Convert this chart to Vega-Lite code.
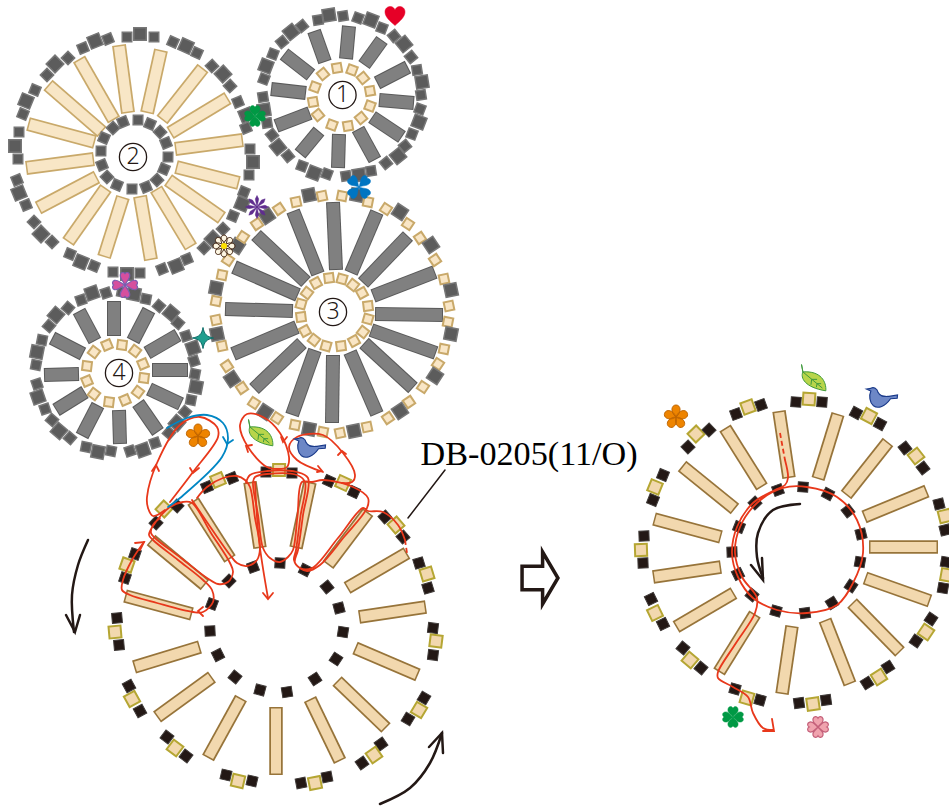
{"$schema":"https://vega.github.io/schema/vega-lite/v6.json","width":949,"height":810,"padding":0,"autosize":{"type":"none"},"background":"white","config":{"view":{"stroke":null}},
"resolve":{"scale":{"stroke":"independent","strokeWidth":"independent","fill":"independent","size":"independent","shape":"independent"}},
"datasets":{
"spokes":[
{"t":"c","x":128,"y":113,"x2":119,"y2":45,"a":127.8,"b":111.5,"a2":119.2,"b2":46.5},
{"t":"c","x":114,"y":120,"x2":79,"y2":59,"a":113.2,"b":118.7,"a2":79.8,"b2":60.3},
{"t":"c","x":102,"y":132,"x2":48,"y2":85,"a":100.9,"b":131,"a2":49.1,"b2":86},
{"t":"c","x":95,"y":142,"x2":28,"y2":124,"a":93.5,"b":141.6,"a2":29.5,"b2":124.4},
{"t":"c","x":94,"y":159,"x2":26,"y2":168,"a":92.5,"b":159.2,"a2":27.5,"b2":167.8},
{"t":"c","x":97,"y":177,"x2":38,"y2":208,"a":95.7,"b":177.7,"a2":39.3,"b2":207.3},
{"t":"c","x":106,"y":188,"x2":68,"y2":242,"a":105.1,"b":189.2,"a2":68.9,"b2":240.8},
{"t":"c","x":123,"y":197,"x2":104,"y2":257,"a":122.5,"b":198.4,"a2":104.5,"b2":255.6},
{"t":"c","x":140,"y":196,"x2":151,"y2":260,"a":140.3,"b":197.5,"a2":150.7,"b2":258.5},
{"t":"c","x":156,"y":189,"x2":191,"y2":247,"a":156.8,"b":190.3,"a2":190.2,"b2":245.7},
{"t":"c","x":168,"y":180,"x2":222,"y2":218,"a":169.2,"b":180.9,"a2":220.8,"b2":217.1},
{"t":"c","x":176,"y":167,"x2":239,"y2":183,"a":177.5,"b":167.4,"a2":237.5,"b2":182.6},
{"t":"c","x":175,"y":149,"x2":243,"y2":140,"a":176.5,"b":148.8,"a2":241.5,"b2":140.2},
{"t":"c","x":170,"y":133,"x2":228,"y2":98,"a":171.3,"b":132.2,"a2":226.7,"b2":98.8},
{"t":"c","x":162,"y":120,"x2":203,"y2":68,"a":162.9,"b":118.8,"a2":202.1,"b2":69.2},
{"t":"c","x":147,"y":113,"x2":161,"y2":50,"a":147.3,"b":111.5,"a2":160.7,"b2":51.5},
{"t":"g","x":346,"y":59,"x2":349,"y2":26,"a":346.1,"b":58,"a2":348.9,"b2":27},
{"t":"g","x":364,"y":65,"x2":382,"y2":40,"a":364.6,"b":64.2,"a2":381.4,"b2":40.8},
{"t":"g","x":377,"y":83,"x2":408,"y2":67,"a":377.9,"b":82.5,"a2":407.1,"b2":67.5},
{"t":"g","x":379,"y":100,"x2":414,"y2":103,"a":380,"b":100.1,"a2":413,"b2":102.9},
{"t":"g","x":372,"y":117,"x2":402,"y2":137,"a":372.8,"b":117.6,"a2":401.2,"b2":136.4},
{"t":"g","x":358,"y":129,"x2":375,"y2":160,"a":358.5,"b":129.9,"a2":374.5,"b2":159.1},
{"t":"g","x":339,"y":134,"x2":338,"y2":168,"a":339,"b":135,"a2":338,"b2":167},
{"t":"g","x":319,"y":131,"x2":300,"y2":154,"a":318.4,"b":131.8,"a2":300.6,"b2":153.2},
{"t":"g","x":310,"y":113,"x2":276,"y2":126,"a":309.1,"b":113.4,"a2":276.9,"b2":125.6},
{"t":"g","x":306,"y":93,"x2":271,"y2":89,"a":305,"b":92.9,"a2":272,"b2":89.1},
{"t":"g","x":311,"y":75,"x2":284,"y2":54,"a":310.2,"b":74.4,"a2":284.8,"b2":54.6},
{"t":"g","x":325,"y":62,"x2":314,"y2":31,"a":324.7,"b":61.1,"a2":314.3,"b2":31.9},
{"t":"g","x":336,"y":270,"x2":333,"y2":202,"a":335.9,"b":269,"a2":333.1,"b2":203},
{"t":"g","x":351,"y":273,"x2":377,"y2":212,"a":351.4,"b":272.1,"a2":376.6,"b2":212.9},
{"t":"g","x":363,"y":283,"x2":408,"y2":236,"a":363.7,"b":282.3,"a2":407.3,"b2":236.7},
{"t":"g","x":373,"y":296,"x2":435,"y2":272,"a":373.9,"b":295.6,"a2":434.1,"b2":272.4},
{"t":"g","x":375,"y":314,"x2":443,"y2":315,"a":376,"b":314,"a2":442,"b2":315},
{"t":"g","x":371,"y":330,"x2":436,"y2":353,"a":371.9,"b":330.3,"a2":435.1,"b2":352.7},
{"t":"g","x":364,"y":343,"x2":413,"y2":388,"a":364.7,"b":343.7,"a2":412.3,"b2":387.3},
{"t":"g","x":350,"y":352,"x2":377,"y2":414,"a":350.4,"b":352.9,"a2":376.6,"b2":413.1},
{"t":"g","x":333,"y":355,"x2":332,"y2":423,"a":333,"b":356,"a2":332,"b2":422},
{"t":"g","x":315,"y":350,"x2":292,"y2":415,"a":314.7,"b":350.9,"a2":292.3,"b2":414.1},
{"t":"g","x":302,"y":343,"x2":254,"y2":389,"a":301.3,"b":343.7,"a2":254.7,"b2":388.3},
{"t":"g","x":297,"y":327,"x2":233,"y2":354,"a":296.1,"b":327.4,"a2":233.9,"b2":353.6},
{"t":"g","x":293,"y":311,"x2":225,"y2":309,"a":292,"b":311,"a2":226,"b2":309},
{"t":"g","x":298,"y":295,"x2":234,"y2":267,"a":297.1,"b":294.6,"a2":234.9,"b2":267.4},
{"t":"g","x":306,"y":282,"x2":256,"y2":235,"a":305.3,"b":281.3,"a2":256.7,"b2":235.7},
{"t":"g","x":318,"y":274,"x2":293,"y2":211,"a":317.6,"b":273.1,"a2":293.4,"b2":211.9},
{"t":"g","x":114,"y":336,"x2":114,"y2":301,"a":114,"b":335,"a2":114,"b2":302},
{"t":"g","x":133,"y":341,"x2":149,"y2":310,"a":133.5,"b":340.1,"a2":148.5,"b2":310.9},
{"t":"g","x":147,"y":353,"x2":178,"y2":335,"a":147.9,"b":352.5,"a2":177.1,"b2":335.5},
{"t":"g","x":152,"y":370,"x2":188,"y2":370,"a":153,"b":370,"a2":187,"b2":370},
{"t":"g","x":149,"y":389,"x2":181,"y2":404,"a":149.9,"b":389.4,"a2":180.1,"b2":403.6},
{"t":"g","x":138,"y":403,"x2":158,"y2":432,"a":138.6,"b":403.8,"a2":157.4,"b2":431.2},
{"t":"g","x":119,"y":410,"x2":120,"y2":444,"a":119,"b":411,"a2":120,"b2":443},
{"t":"g","x":98,"y":405,"x2":82,"y2":436,"a":97.5,"b":405.9,"a2":82.5,"b2":435.1},
{"t":"g","x":85,"y":392,"x2":56,"y2":410,"a":84.2,"b":392.5,"a2":56.8,"b2":409.5},
{"t":"g","x":79,"y":374,"x2":44,"y2":375,"a":78,"b":374,"a2":45,"b2":375},
{"t":"g","x":83,"y":354,"x2":52,"y2":338,"a":82.1,"b":353.5,"a2":52.9,"b2":338.5},
{"t":"g","x":95,"y":341,"x2":79,"y2":311,"a":94.5,"b":340.1,"a2":79.5,"b2":311.9},
{"t":"t","x":260,"y":548,"x2":250,"y2":482,"a":259.8,"b":546.5,"a2":250.2,"b2":483.5},
{"t":"t","x":296,"y":548,"x2":310,"y2":482,"a":296.3,"b":546.5,"a2":309.7,"b2":483.5},
{"t":"t","x":328,"y":565,"x2":368,"y2":512,"a":328.9,"b":563.8,"a2":367.1,"b2":513.2},
{"t":"t","x":347,"y":588,"x2":407,"y2":553,"a":348.3,"b":587.2,"a2":405.7,"b2":553.8},
{"t":"t","x":359,"y":617,"x2":426,"y2":607,"a":360.5,"b":616.8,"a2":424.5,"b2":607.2},
{"t":"t","x":355,"y":648,"x2":418,"y2":675,"a":356.4,"b":648.6,"a2":416.6,"b2":674.4},
{"t":"t","x":337,"y":681,"x2":386,"y2":728,"a":338.1,"b":682,"a2":384.9,"b2":727},
{"t":"t","x":310,"y":699,"x2":340,"y2":761,"a":310.7,"b":700.4,"a2":339.3,"b2":759.6},
{"t":"t","x":276,"y":707,"x2":276,"y2":775,"a":276,"b":708.5,"a2":276,"b2":773.5},
{"t":"t","x":241,"y":698,"x2":208,"y2":758,"a":240.3,"b":699.3,"a2":208.7,"b2":756.7},
{"t":"t","x":212,"y":677,"x2":157,"y2":717,"a":210.8,"b":677.9,"a2":158.2,"b2":716.1},
{"t":"t","x":200,"y":647,"x2":134,"y2":667,"a":198.5,"b":647.4,"a2":135.5,"b2":666.6},
{"t":"t","x":192,"y":614,"x2":125,"y2":596,"a":190.5,"b":613.6,"a2":126.5,"b2":596.4},
{"t":"t","x":205,"y":585,"x2":151,"y2":540,"a":203.9,"b":584,"a2":152.1,"b2":541},
{"t":"t","x":230,"y":559,"x2":193,"y2":501,"a":229.2,"b":557.7,"a2":193.8,"b2":502.3},
{"t":"t","x":789,"y":478,"x2":779,"y2":411,"a":788.8,"b":476.5,"a2":779.2,"b2":412.5},
{"t":"t","x":818,"y":479,"x2":838,"y2":414,"a":818.4,"b":477.6,"a2":837.6,"b2":415.4},
{"t":"t","x":846,"y":495,"x2":888,"y2":442,"a":846.9,"b":493.8,"a2":887.1,"b2":443.2},
{"t":"t","x":864,"y":517,"x2":927,"y2":491,"a":865.4,"b":516.4,"a2":925.6,"b2":491.6},
{"t":"t","x":869,"y":547,"x2":938,"y2":547,"a":870.5,"b":547,"a2":936.5,"b2":547},
{"t":"t","x":865,"y":578,"x2":930,"y2":601,"a":866.4,"b":578.5,"a2":928.6,"b2":600.5},
{"t":"t","x":852,"y":603,"x2":900,"y2":652,"a":853,"b":604,"a2":899,"b2":651},
{"t":"t","x":825,"y":620,"x2":850,"y2":684,"a":825.5,"b":621.4,"a2":849.5,"b2":682.6},
{"t":"t","x":792,"y":626,"x2":782,"y2":694,"a":791.8,"b":627.5,"a2":782.2,"b2":692.5},
{"t":"t","x":755,"y":614,"x2":719,"y2":672,"a":754.2,"b":615.3,"a2":719.8,"b2":670.7},
{"t":"t","x":734,"y":593,"x2":676,"y2":627,"a":732.7,"b":593.8,"a2":677.3,"b2":626.2},
{"t":"t","x":721,"y":567,"x2":653,"y2":577,"a":719.5,"b":567.2,"a2":654.5,"b2":576.8},
{"t":"t","x":721,"y":537,"x2":654,"y2":519,"a":719.6,"b":536.6,"a2":655.4,"b2":519.4},
{"t":"t","x":735,"y":509,"x2":682,"y2":466,"a":733.8,"b":508,"a2":683.2,"b2":467},
{"t":"t","x":762,"y":487,"x2":725,"y2":428,"a":761.2,"b":485.7,"a2":725.8,"b2":429.3}
],
"beads":[
{"x":127,"y":37,"a":0,"k":"gs"},{"x":140,"y":34,"a":0,"k":"gb"},{"x":154,"y":37,"a":0,"k":"gs"},
{"x":173,"y":42,"a":24,"k":"gs"},{"x":186,"y":46,"a":24,"k":"gb"},{"x":197,"y":53,"a":24,"k":"gs"},
{"x":212,"y":66,"a":47,"k":"gs"},{"x":223,"y":74,"a":47,"k":"gb"},{"x":230,"y":86,"a":47,"k":"gs"},
{"x":238,"y":102,"a":68,"k":"gs"},{"x":246,"y":115,"a":68,"k":"gb"},{"x":246,"y":128,"a":68,"k":"gs"},
{"x":250,"y":149,"a":90,"k":"gs"},{"x":253,"y":162,"a":90,"k":"gb"},{"x":249,"y":175,"a":90,"k":"gs"},
{"x":244,"y":192,"a":112,"k":"gs"},{"x":242,"y":204,"a":112,"k":"gb"},{"x":233,"y":216,"a":112,"k":"gs"},
{"x":223,"y":229,"a":135,"k":"gs"},{"x":213,"y":239,"a":135,"k":"gb"},{"x":204,"y":248,"a":135,"k":"gs"},
{"x":187,"y":259,"a":158,"k":"gs"},{"x":176,"y":266,"a":158,"k":"gb"},{"x":162,"y":269,"a":158,"k":"gs"},
{"x":140,"y":273,"a":180,"k":"gs"},{"x":127,"y":274,"a":180,"k":"gb"},{"x":113,"y":272,"a":180,"k":"gs"},
{"x":94,"y":266,"a":202,"k":"gs"},{"x":81,"y":262,"a":202,"k":"gb"},{"x":70,"y":254,"a":202,"k":"gs"},
{"x":52,"y":242,"a":225,"k":"gs"},{"x":41,"y":234,"a":225,"k":"gb"},{"x":34,"y":222,"a":225,"k":"gs"},
{"x":26,"y":205,"a":248,"k":"gs"},{"x":19,"y":193,"a":248,"k":"gb"},{"x":17,"y":180,"a":248,"k":"gs"},
{"x":18,"y":159,"a":270,"k":"gs"},{"x":15,"y":146,"a":270,"k":"gb"},{"x":19,"y":132,"a":270,"k":"gs"},
{"x":23,"y":114,"a":292,"k":"gs"},{"x":26,"y":101,"a":292,"k":"gb"},{"x":35,"y":90,"a":292,"k":"gs"},
{"x":47,"y":75,"a":315,"k":"gs"},{"x":55,"y":64,"a":315,"k":"gb"},{"x":68,"y":58,"a":315,"k":"gs"},
{"x":83,"y":48,"a":338,"k":"gs"},{"x":95,"y":41,"a":338,"k":"gb"},{"x":108,"y":39,"a":338,"k":"gs"},
{"x":138,"y":120,"a":1,"k":"gs"},{"x":150,"y":124,"a":23,"k":"gs"},{"x":160,"y":132,"a":46,"k":"gs"},{"x":166,"y":143,"a":68,"k":"gs"},{"x":168,"y":157,"a":91,"k":"gs"},{"x":164,"y":169,"a":113,"k":"gs"},{"x":157,"y":180,"a":136,"k":"gs"},{"x":146,"y":187,"a":158,"k":"gs"},{"x":132,"y":189,"a":181,"k":"gs"},{"x":117,"y":185,"a":203,"k":"gs"},{"x":107,"y":177,"a":226,"k":"gs"},{"x":102,"y":165,"a":248,"k":"gs"},{"x":101,"y":151,"a":271,"k":"gs"},{"x":104,"y":138,"a":293,"k":"gs"},{"x":113,"y":128,"a":316,"k":"gs"},{"x":123,"y":122,"a":338,"k":"gs"},
{"x":318,"y":20,"a":-9,"k":"gs"},{"x":329,"y":15,"a":-9,"k":"gb"},{"x":343,"y":16,"a":-9,"k":"gs"},
{"x":358,"y":18,"a":21,"k":"gs"},{"x":371,"y":20,"a":21,"k":"gb"},{"x":382,"y":28,"a":21,"k":"gs"},
{"x":394,"y":36,"a":51,"k":"gs"},{"x":404,"y":44,"a":51,"k":"gb"},{"x":411,"y":57,"a":51,"k":"gs"},
{"x":417,"y":70,"a":81,"k":"gs"},{"x":422,"y":82,"a":81,"k":"gb"},{"x":421,"y":95,"a":81,"k":"gs"},
{"x":420,"y":109,"a":111,"k":"gs"},{"x":419,"y":122,"a":111,"k":"gb"},{"x":412,"y":134,"a":111,"k":"gs"},
{"x":405,"y":146,"a":141,"k":"gs"},{"x":398,"y":156,"a":141,"k":"gb"},{"x":386,"y":163,"a":141,"k":"gs"},
{"x":371,"y":171,"a":171,"k":"gs"},{"x":359,"y":175,"a":171,"k":"gb"},{"x":346,"y":176,"a":171,"k":"gs"},
{"x":327,"y":174,"a":201,"k":"gs"},{"x":314,"y":173,"a":201,"k":"gb"},{"x":302,"y":166,"a":201,"k":"gs"},
{"x":288,"y":156,"a":231,"k":"gs"},{"x":278,"y":147,"a":231,"k":"gb"},{"x":272,"y":135,"a":231,"k":"gs"},
{"x":267,"y":123,"a":261,"k":"gs"},{"x":264,"y":110,"a":261,"k":"gb"},{"x":263,"y":97,"a":261,"k":"gs"},
{"x":264,"y":79,"a":291,"k":"gs"},{"x":266,"y":66,"a":291,"k":"gb"},{"x":273,"y":54,"a":291,"k":"gs"},
{"x":282,"y":42,"a":321,"k":"gs"},{"x":291,"y":32,"a":321,"k":"gb"},{"x":302,"y":26,"a":321,"k":"gs"},
{"x":337,"y":68,"a":-10,"k":"c"},{"x":352,"y":70,"a":20,"k":"c"},{"x":363,"y":78,"a":50,"k":"c"},{"x":370,"y":91,"a":80,"k":"c"},{"x":370,"y":106,"a":110,"k":"c"},{"x":361,"y":118,"a":140,"k":"c"},{"x":348,"y":126,"a":170,"k":"c"},{"x":332,"y":125,"a":200,"k":"c"},{"x":318,"y":115,"a":230,"k":"c"},{"x":313,"y":102,"a":260,"k":"c"},{"x":315,"y":87,"a":290,"k":"c"},{"x":323,"y":74,"a":320,"k":"c"},
{"x":296,"y":202,"a":-12,"k":"c"},{"x":309,"y":195,"a":-12,"k":"gb"},{"x":322,"y":196,"a":-12,"k":"c"},
{"x":342,"y":196,"a":11,"k":"c"},{"x":357,"y":195,"a":11,"k":"gb"},{"x":368,"y":202,"a":11,"k":"c"},
{"x":386,"y":209,"a":33,"k":"c"},{"x":400,"y":212,"a":33,"k":"gb"},{"x":408,"y":224,"a":33,"k":"c"},
{"x":420,"y":238,"a":56,"k":"c"},{"x":431,"y":245,"a":56,"k":"gb"},{"x":435,"y":260,"a":56,"k":"c"},
{"x":444,"y":279,"a":78,"k":"c"},{"x":451,"y":290,"a":78,"k":"gb"},{"x":449,"y":306,"a":78,"k":"c"},
{"x":448,"y":322,"a":101,"k":"c"},{"x":451,"y":334,"a":101,"k":"gb"},{"x":444,"y":349,"a":101,"k":"c"},
{"x":438,"y":364,"a":123,"k":"c"},{"x":435,"y":376,"a":123,"k":"gb"},{"x":423,"y":387,"a":123,"k":"c"},
{"x":409,"y":402,"a":146,"k":"c"},{"x":400,"y":411,"a":146,"k":"gb"},{"x":388,"y":418,"a":146,"k":"c"},
{"x":367,"y":427,"a":168,"k":"c"},{"x":354,"y":431,"a":168,"k":"gb"},{"x":340,"y":433,"a":168,"k":"c"},
{"x":323,"y":432,"a":191,"k":"c"},{"x":309,"y":429,"a":191,"k":"gb"},{"x":295,"y":425,"a":191,"k":"c"},
{"x":277,"y":418,"a":213,"k":"c"},{"x":265,"y":412,"a":213,"k":"gb"},{"x":254,"y":403,"a":213,"k":"c"},
{"x":242,"y":388,"a":236,"k":"c"},{"x":232,"y":379,"a":236,"k":"gb"},{"x":227,"y":366,"a":236,"k":"c"},
{"x":222,"y":346,"a":258,"k":"c"},{"x":217,"y":334,"a":258,"k":"gb"},{"x":216,"y":320,"a":258,"k":"c"},
{"x":216,"y":301,"a":281,"k":"c"},{"x":216,"y":288,"a":281,"k":"gb"},{"x":222,"y":275,"a":281,"k":"c"},
{"x":228,"y":260,"a":303,"k":"c"},{"x":237,"y":246,"a":303,"k":"gb"},{"x":243,"y":237,"a":303,"k":"c"},
{"x":257,"y":224,"a":326,"k":"c"},{"x":267,"y":216,"a":326,"k":"gb"},{"x":279,"y":209,"a":326,"k":"c"},
{"x":329,"y":278,"a":-7,"k":"c"},{"x":342,"y":279,"a":16,"k":"c"},{"x":353,"y":285,"a":38,"k":"c"},{"x":362,"y":293,"a":61,"k":"c"},{"x":368,"y":306,"a":83,"k":"c"},{"x":368,"y":319,"a":106,"k":"c"},{"x":363,"y":332,"a":128,"k":"c"},{"x":354,"y":341,"a":151,"k":"c"},{"x":341,"y":346,"a":173,"k":"c"},{"x":326,"y":346,"a":196,"k":"c"},{"x":314,"y":340,"a":218,"k":"c"},{"x":305,"y":331,"a":241,"k":"c"},{"x":301,"y":317,"a":263,"k":"c"},{"x":301,"y":304,"a":286,"k":"c"},{"x":307,"y":293,"a":308,"k":"c"},{"x":316,"y":283,"a":331,"k":"c"},
{"x":106,"y":293,"a":-19,"k":"gs"},{"x":92,"y":293,"a":-19,"k":"gb"},{"x":81,"y":300,"a":-19,"k":"gs"},
{"x":68,"y":308,"a":-49,"k":"gs"},{"x":56,"y":315,"a":-49,"k":"gb"},{"x":49,"y":326,"a":-49,"k":"gs"},
{"x":42,"y":340,"a":-79,"k":"gs"},{"x":37,"y":352,"a":-79,"k":"gb"},{"x":36,"y":365,"a":-79,"k":"gs"},
{"x":37,"y":384,"a":-109,"k":"gs"},{"x":38,"y":397,"a":-109,"k":"gb"},{"x":45,"y":409,"a":-109,"k":"gs"},
{"x":52,"y":420,"a":-139,"k":"gs"},{"x":59,"y":431,"a":-139,"k":"gb"},{"x":70,"y":438,"a":-139,"k":"gs"},
{"x":86,"y":447,"a":-169,"k":"gs"},{"x":98,"y":452,"a":-169,"k":"gb"},{"x":111,"y":451,"a":-169,"k":"gs"},
{"x":130,"y":451,"a":161,"k":"gs"},{"x":143,"y":450,"a":161,"k":"gb"},{"x":155,"y":443,"a":161,"k":"gs"},
{"x":169,"y":433,"a":131,"k":"gs"},{"x":177,"y":423,"a":131,"k":"gb"},{"x":185,"y":412,"a":131,"k":"gs"},
{"x":191,"y":400,"a":101,"k":"gs"},{"x":196,"y":387,"a":101,"k":"gb"},{"x":195,"y":374,"a":101,"k":"gs"},
{"x":194,"y":361,"a":71,"k":"gs"},{"x":193,"y":348,"a":71,"k":"gb"},{"x":186,"y":336,"a":71,"k":"gs"},
{"x":178,"y":323,"a":41,"k":"gs"},{"x":171,"y":313,"a":41,"k":"gb"},{"x":159,"y":306,"a":41,"k":"gs"},
{"x":146,"y":299,"a":11,"k":"gs"},{"x":134,"y":294,"a":11,"k":"gb"},{"x":122,"y":292,"a":11,"k":"gs"},
{"x":107,"y":345,"a":-23,"k":"c"},{"x":122,"y":345,"a":7,"k":"c"},{"x":135,"y":351,"a":37,"k":"c"},{"x":143,"y":364,"a":67,"k":"c"},{"x":144,"y":378,"a":97,"k":"c"},{"x":138,"y":392,"a":127,"k":"c"},{"x":125,"y":400,"a":157,"k":"c"},{"x":109,"y":402,"a":187,"k":"c"},{"x":94,"y":394,"a":217,"k":"c"},{"x":87,"y":381,"a":247,"k":"c"},{"x":87,"y":366,"a":277,"k":"c"},{"x":94,"y":352,"a":307,"k":"c"},
{"x":266,"y":472,"a":1,"k":"d"},{"x":279,"y":470,"a":1,"k":"o"},{"x":292,"y":473,"a":1,"k":"d"},
{"x":329,"y":481,"a":25,"k":"d"},{"x":343,"y":483,"a":25,"k":"o"},{"x":354,"y":492,"a":25,"k":"d"},
{"x":385,"y":517,"a":49,"k":"d"},{"x":396,"y":525,"a":49,"k":"o"},{"x":403,"y":537,"a":49,"k":"d"},
{"x":419,"y":563,"a":73,"k":"d"},{"x":427,"y":574,"a":73,"k":"o"},{"x":428,"y":588,"a":73,"k":"d"},
{"x":433,"y":628,"a":97,"k":"d"},{"x":436,"y":641,"a":97,"k":"o"},{"x":433,"y":655,"a":97,"k":"d"},
{"x":424,"y":698,"a":121,"k":"d"},{"x":419,"y":710,"a":121,"k":"o"},{"x":408,"y":719,"a":121,"k":"d"},
{"x":381,"y":744,"a":145,"k":"d"},{"x":374,"y":755,"a":145,"k":"o"},{"x":362,"y":763,"a":145,"k":"d"},
{"x":327,"y":777,"a":169,"k":"d"},{"x":315,"y":783,"a":169,"k":"o"},{"x":301,"y":783,"a":169,"k":"d"},
{"x":252,"y":781,"a":193,"k":"d"},{"x":238,"y":781,"a":193,"k":"o"},{"x":226,"y":775,"a":193,"k":"d"},
{"x":186,"y":756,"a":217,"k":"d"},{"x":175,"y":748,"a":217,"k":"o"},{"x":167,"y":737,"a":217,"k":"d"},
{"x":140,"y":711,"a":241,"k":"d"},{"x":132,"y":699,"a":241,"k":"o"},{"x":129,"y":686,"a":241,"k":"d"},
{"x":119,"y":645,"a":265,"k":"d"},{"x":115,"y":632,"a":265,"k":"o"},{"x":117,"y":618,"a":265,"k":"d"},
{"x":125,"y":578,"a":289,"k":"d"},{"x":127,"y":565,"a":289,"k":"o"},{"x":135,"y":554,"a":289,"k":"d"},
{"x":156,"y":523,"a":313,"k":"d"},{"x":164,"y":509,"a":313,"k":"o"},{"x":177,"y":506,"a":313,"k":"d"},
{"x":207,"y":487,"a":337,"k":"d"},{"x":218,"y":480,"a":337,"k":"o"},{"x":232,"y":478,"a":337,"k":"d"},
{"x":280,"y":563,"a":3,"k":"d"},{"x":305,"y":570,"a":27,"k":"d"},{"x":327,"y":587,"a":51,"k":"d"},{"x":339,"y":608,"a":75,"k":"d"},{"x":343,"y":632,"a":99,"k":"d"},{"x":336,"y":659,"a":123,"k":"d"},{"x":315,"y":679,"a":147,"k":"d"},{"x":287,"y":692,"a":171,"k":"d"},{"x":260,"y":690,"a":195,"k":"d"},{"x":235,"y":677,"a":219,"k":"d"},{"x":218,"y":655,"a":243,"k":"d"},{"x":210,"y":631,"a":267,"k":"d"},{"x":212,"y":604,"a":291,"k":"d"},{"x":229,"y":581,"a":315,"k":"d"},{"x":253,"y":567,"a":339,"k":"d"},
{"x":796,"y":402,"a":4,"k":"d"},{"x":809,"y":399,"a":4,"k":"o"},{"x":822,"y":402,"a":4,"k":"d"},
{"x":856,"y":413,"a":28,"k":"d"},{"x":869,"y":416,"a":28,"k":"o"},{"x":880,"y":424,"a":28,"k":"d"},
{"x":905,"y":448,"a":52,"k":"d"},{"x":916,"y":456,"a":52,"k":"o"},{"x":923,"y":468,"a":52,"k":"d"},
{"x":939,"y":504,"a":76,"k":"d"},{"x":945,"y":516,"a":76,"k":"o"},{"x":945,"y":530,"a":76,"k":"d"},
{"x":946,"y":562,"a":100,"k":"d"},{"x":947,"y":575,"a":100,"k":"o"},{"x":943,"y":588,"a":100,"k":"d"},
{"x":931,"y":619,"a":124,"k":"d"},{"x":926,"y":632,"a":124,"k":"o"},{"x":916,"y":641,"a":124,"k":"d"},
{"x":888,"y":667,"a":148,"k":"d"},{"x":879,"y":677,"a":148,"k":"o"},{"x":867,"y":683,"a":148,"k":"d"},
{"x":826,"y":700,"a":172,"k":"d"},{"x":813,"y":704,"a":172,"k":"o"},{"x":799,"y":703,"a":172,"k":"d"},
{"x":760,"y":700,"a":196,"k":"d"},{"x":747,"y":698,"a":196,"k":"o"},{"x":735,"y":689,"a":196,"k":"d"},
{"x":701,"y":668,"a":220,"k":"d"},{"x":690,"y":660,"a":220,"k":"o"},{"x":683,"y":648,"a":220,"k":"d"},
{"x":663,"y":624,"a":244,"k":"d"},{"x":655,"y":613,"a":244,"k":"o"},{"x":651,"y":599,"a":244,"k":"d"},
{"x":643,"y":563,"a":268,"k":"d"},{"x":641,"y":550,"a":268,"k":"o"},{"x":644,"y":536,"a":268,"k":"d"},
{"x":653,"y":500,"a":292,"k":"d"},{"x":655,"y":487,"a":292,"k":"o"},{"x":663,"y":475,"a":292,"k":"d"},
{"x":688,"y":447,"a":316,"k":"d"},{"x":696,"y":434,"a":316,"k":"o"},{"x":709,"y":430,"a":316,"k":"d"},
{"x":736,"y":414,"a":340,"k":"d"},{"x":748,"y":407,"a":340,"k":"o"},{"x":761,"y":405,"a":340,"k":"d"},
{"x":803,"y":487,"a":4,"k":"d"},{"x":828,"y":494,"a":28,"k":"d"},{"x":848,"y":511,"a":52,"k":"d"},{"x":861,"y":534,"a":76,"k":"d"},{"x":860,"y":562,"a":100,"k":"d"},{"x":851,"y":586,"a":124,"k":"d"},{"x":832,"y":603,"a":148,"k":"d"},{"x":805,"y":613,"a":172,"k":"d"},{"x":776,"y":611,"a":196,"k":"d"},{"x":752,"y":595,"a":220,"k":"d"},{"x":738,"y":574,"a":244,"k":"d"},{"x":732,"y":552,"a":268,"k":"d"},{"x":739,"y":527,"a":292,"k":"d"},{"x":755,"y":503,"a":316,"k":"d"},{"x":778,"y":490,"a":340,"k":"d"}
],
"curves":[
{"s":"r1","g":"r","o":1,"x":144,"y":542},{"s":"r1","g":"r","o":2,"x":132,"y":560},{"s":"r1","g":"r","o":3,"x":123,"y":580},{"s":"r1","g":"r","o":4,"x":122,"y":590},{"s":"r1","g":"r","o":5,"x":130,"y":595},{"s":"r1","g":"r","o":6,"x":157,"y":603},{"s":"r1","g":"r","o":7,"x":193,"y":612},{"s":"r1","g":"r","o":8,"x":203,"y":612},{"s":"r1","g":"r","o":9,"x":213,"y":602},{"s":"r1","g":"r","o":10,"x":212,"y":590},{"s":"r1","g":"r","o":11,"x":203,"y":580},{"s":"r1","g":"r","o":11.5,"x":178,"y":560},{"s":"r1","g":"r","o":12,"x":153,"y":540},{"s":"r1","g":"r","o":13,"x":149,"y":535},{"s":"r1","g":"r","o":14,"x":153,"y":526},{"s":"r1","g":"r","o":15,"x":170,"y":507},{"s":"r1","g":"r","o":16,"x":183,"y":502},{"s":"r1","g":"r","o":17,"x":192,"y":503},{"s":"r1","g":"r","o":17.5,"x":211,"y":533},{"s":"r1","g":"r","o":18,"x":230,"y":563},{"s":"r1","g":"r","o":19,"x":233,"y":572},{"s":"r1","g":"r","o":20,"x":228,"y":582},{"s":"r1","g":"r","o":21,"x":218,"y":584},{"s":"r1","g":"r","o":22,"x":207,"y":578},{"s":"r1","g":"r","o":22.5,"x":181,"y":558},{"s":"r1","g":"r","o":23,"x":155,"y":538},{"s":"r1","g":"r","o":24,"x":151,"y":533},{"s":"r1","g":"r","o":25,"x":153,"y":525},{"s":"r1","g":"r","o":26,"x":160,"y":518},
{"s":"r1c","g":"r","o":1,"x":165,"y":510},{"s":"r1c","g":"r","o":2,"x":153,"y":516},{"s":"r1c","g":"r","o":3,"x":148,"y":508},{"s":"r1c","g":"r","o":4,"x":147,"y":497},{"s":"r1c","g":"r","o":5,"x":157,"y":463},{"s":"r1c","g":"r","o":6,"x":180,"y":425},{"s":"r1c","g":"r","o":7,"x":200,"y":417},{"s":"r1c","g":"r","o":8,"x":217,"y":427},{"s":"r1c","g":"r","o":9,"x":218,"y":437},{"s":"r1c","g":"r","o":10,"x":193,"y":472},{"s":"r1c","g":"r","o":11,"x":170,"y":502},
{"s":"r2","g":"r","o":1,"x":197,"y":498},{"s":"r2","g":"r","o":2,"x":207,"y":487},{"s":"r2","g":"r","o":3,"x":223,"y":478},{"s":"r2","g":"r","o":4,"x":237,"y":476},{"s":"r2","g":"r","o":5,"x":245,"y":480},{"s":"r2","g":"r","o":6,"x":250,"y":487},{"s":"r2","g":"r","o":6.5,"x":255,"y":518},{"s":"r2","g":"r","o":7,"x":260,"y":548},{"s":"r2","g":"r","o":8,"x":257,"y":560},{"s":"r2","g":"r","o":9,"x":247,"y":566},{"s":"r2","g":"r","o":10,"x":237,"y":563},{"s":"r2","g":"r","o":11,"x":230,"y":555},{"s":"r2","g":"r","o":11.5,"x":211,"y":528},{"s":"r2","g":"r","o":12,"x":192,"y":500},
{"s":"r3","g":"r","o":1,"x":246,"y":483},{"s":"r3","g":"r","o":2,"x":250,"y":475},{"s":"r3","g":"r","o":3,"x":267,"y":471},{"s":"r3","g":"r","o":4,"x":297,"y":472},{"s":"r3","g":"r","o":5,"x":308,"y":478},{"s":"r3","g":"r","o":5.5,"x":303,"y":515},{"s":"r3","g":"r","o":6,"x":298,"y":550},{"s":"r3","g":"r","o":7,"x":295,"y":563},{"s":"r3","g":"r","o":8,"x":307,"y":571},{"s":"r3","g":"r","o":9,"x":320,"y":565},{"s":"r3","g":"r","o":9.5,"x":344,"y":537},{"s":"r3","g":"r","o":10,"x":367,"y":508},{"s":"r3","g":"r","o":11,"x":368,"y":498},{"s":"r3","g":"r","o":12,"x":353,"y":487},{"s":"r3","g":"r","o":13,"x":323,"y":480},{"s":"r3","g":"r","o":14,"x":312,"y":482},{"s":"r3","g":"r","o":15,"x":302,"y":482},{"s":"r3","g":"r","o":15.5,"x":297.5,"y":516},{"s":"r3","g":"r","o":16,"x":293,"y":550},{"s":"r3","g":"r","o":17,"x":288,"y":557},{"s":"r3","g":"r","o":18,"x":280,"y":562},{"s":"r3","g":"r","o":19,"x":270,"y":558},{"s":"r3","g":"r","o":20,"x":263,"y":548},{"s":"r3","g":"r","o":20.5,"x":258,"y":515},{"s":"r3","g":"r","o":21,"x":253,"y":482},{"s":"r3","g":"r","o":22,"x":255,"y":477},{"s":"r3","g":"r","o":23,"x":267,"y":474},{"s":"r3","g":"r","o":24,"x":297,"y":475},{"s":"r3","g":"r","o":25,"x":305,"y":482},{"s":"r3","g":"r","o":25.5,"x":300.5,"y":516},{"s":"r3","g":"r","o":26,"x":296,"y":550},{"s":"r3","g":"r","o":27,"x":294,"y":560},{"s":"r3","g":"r","o":28,"x":300,"y":568},{"s":"r3","g":"r","o":29,"x":312,"y":568},{"s":"r3","g":"r","o":29.5,"x":338,"y":538},{"s":"r3","g":"r","o":30,"x":363,"y":508},{"s":"r3","g":"r","o":31,"x":368,"y":511},{"s":"r3","g":"r","o":32,"x":383,"y":512},{"s":"r3","g":"r","o":33,"x":398,"y":525},{"s":"r3","g":"r","o":34,"x":405,"y":540},
{"s":"r4","g":"r","o":1,"x":255,"y":482},{"s":"r4","g":"r","o":2,"x":259,"y":540},{"s":"r4","g":"r","o":3,"x":268,"y":598},
{"s":"r5","g":"r","o":1,"x":279,"y":469},{"s":"r5","g":"r","o":2,"x":287,"y":467},{"s":"r5","g":"r","o":3,"x":289,"y":457},{"s":"r5","g":"r","o":4,"x":280,"y":433},{"s":"r5","g":"r","o":5,"x":263,"y":417},{"s":"r5","g":"r","o":6,"x":247,"y":414},{"s":"r5","g":"r","o":7,"x":240,"y":425},{"s":"r5","g":"r","o":8,"x":248,"y":447},{"s":"r5","g":"r","o":9,"x":267,"y":467},{"s":"r5","g":"r","o":10,"x":279,"y":469},
{"s":"r6","g":"r","o":1,"x":323,"y":472},{"s":"r6","g":"r","o":2,"x":297,"y":460},{"s":"r6","g":"r","o":3,"x":289,"y":447},{"s":"r6","g":"r","o":4,"x":297,"y":437},{"s":"r6","g":"r","o":5,"x":323,"y":435},{"s":"r6","g":"r","o":6,"x":343,"y":453},{"s":"r6","g":"r","o":7,"x":355,"y":475},{"s":"r6","g":"r","o":8,"x":352,"y":482},{"s":"r6","g":"r","o":9,"x":342,"y":483},
{"s":"r7","g":"r","o":1,"x":785,"y":460},{"s":"r7","g":"r","o":2,"x":788,"y":478},{"s":"r7","g":"r","o":3,"x":785,"y":485},{"s":"r7","g":"r","o":4,"x":775,"y":490},{"s":"r7","g":"r","o":5,"x":753,"y":503},{"s":"r7","g":"r","o":6,"x":737,"y":527},{"s":"r7","g":"r","o":7,"x":732,"y":553},{"s":"r7","g":"r","o":8,"x":738,"y":577},{"s":"r7","g":"r","o":9,"x":753,"y":598},{"s":"r7","g":"r","o":10,"x":777,"y":610},{"s":"r7","g":"r","o":11,"x":807,"y":613},{"s":"r7","g":"r","o":12,"x":837,"y":605},{"s":"r7","g":"r","o":13,"x":853,"y":583},{"s":"r7","g":"r","o":14,"x":863,"y":553},{"s":"r7","g":"r","o":15,"x":857,"y":520},{"s":"r7","g":"r","o":16,"x":837,"y":497},{"s":"r7","g":"r","o":17,"x":807,"y":487},{"s":"r7","g":"r","o":18,"x":783,"y":488},{"s":"r7","g":"r","o":19,"x":757,"y":503},{"s":"r7","g":"r","o":20,"x":740,"y":527},{"s":"r7","g":"r","o":21,"x":735,"y":553},{"s":"r7","g":"r","o":22,"x":742,"y":577},{"s":"r7","g":"r","o":23,"x":757,"y":598},{"s":"r7","g":"r","o":24,"x":755,"y":613},{"s":"r7","g":"r","o":24.5,"x":736,"y":643},{"s":"r7","g":"r","o":25,"x":718,"y":672},{"s":"r7","g":"r","o":26,"x":718,"y":678},{"s":"r7","g":"r","o":27,"x":733,"y":687},{"s":"r7","g":"r","o":28,"x":748,"y":697},{"s":"r7","g":"r","o":29,"x":753,"y":713},{"s":"r7","g":"r","o":30,"x":763,"y":728},{"s":"r7","g":"r","o":31,"x":773,"y":730},
{"s":"b1","g":"b","o":1,"x":167,"y":428},{"s":"b1","g":"b","o":2,"x":187,"y":418},{"s":"b1","g":"b","o":3,"x":207,"y":415},{"s":"b1","g":"b","o":4,"x":223,"y":423},{"s":"b1","g":"b","o":5,"x":228,"y":438},{"s":"b1","g":"b","o":6,"x":222,"y":457},{"s":"b1","g":"b","o":7,"x":180,"y":498},{"s":"b1","g":"b","o":8,"x":168,"y":507},
{"s":"k1","g":"k","o":1,"x":800,"y":504},{"s":"k1","g":"k","o":2,"x":773,"y":510},{"s":"k1","g":"k","o":3,"x":758,"y":533},{"s":"k1","g":"k","o":4,"x":757,"y":557},{"s":"k1","g":"k","o":5,"x":763,"y":578},
{"s":"k2","g":"k","o":1,"x":88,"y":540},{"s":"k2","g":"k","o":2,"x":78,"y":565},{"s":"k2","g":"k","o":3,"x":72,"y":595},{"s":"k2","g":"k","o":4,"x":74,"y":632},
{"s":"k3","g":"k","o":1,"x":380,"y":804},{"s":"k3","g":"k","o":2,"x":410,"y":788},{"s":"k3","g":"k","o":3,"x":430,"y":763},{"s":"k3","g":"k","o":4,"x":442,"y":733}
],
"straight":[
{"s":"h1","g":"r","o":1,"x":135,"y":543},{"s":"h1","g":"r","o":2,"x":144,"y":542},{"s":"h1","g":"r","o":3,"x":140,"y":550},
{"s":"h2","g":"r","o":1,"x":152,"y":471},{"s":"h2","g":"r","o":2,"x":156,"y":465},{"s":"h2","g":"r","o":3,"x":159,"y":471},
{"s":"h3","g":"r","o":1,"x":190,"y":468},{"s":"h3","g":"r","o":2,"x":193,"y":473},{"s":"h3","g":"r","o":3,"x":199,"y":468},
{"s":"h4","g":"r","o":1,"x":281,"y":437},{"s":"h4","g":"r","o":2,"x":283,"y":442},{"s":"h4","g":"r","o":3,"x":287,"y":437},
{"s":"h5","g":"r","o":1,"x":252,"y":445},{"s":"h5","g":"r","o":2,"x":246,"y":446},{"s":"h5","g":"r","o":3,"x":248,"y":452},
{"s":"h6","g":"r","o":1,"x":318,"y":466},{"s":"h6","g":"r","o":2,"x":322,"y":471},{"s":"h6","g":"r","o":3,"x":317,"y":472},
{"s":"h7","g":"r","o":1,"x":338,"y":455},{"s":"h7","g":"r","o":2,"x":342,"y":451},{"s":"h7","g":"r","o":3,"x":346,"y":454},
{"s":"h8","g":"r","o":1,"x":203,"y":607},{"s":"h8","g":"r","o":2,"x":198,"y":611},{"s":"h8","g":"r","o":3,"x":203,"y":616},
{"s":"h9","g":"r","o":1,"x":263,"y":593},{"s":"h9","g":"r","o":2,"x":268,"y":599},{"s":"h9","g":"r","o":3,"x":273,"y":593},
{"s":"h10","g":"r","o":1,"x":772,"y":719},{"s":"h10","g":"r","o":2,"x":774,"y":731},{"s":"h10","g":"r","o":3,"x":763,"y":731},
{"s":"h11","g":"b","o":1,"x":223,"y":437},{"s":"h11","g":"b","o":2,"x":227,"y":444},{"s":"h11","g":"b","o":3,"x":233,"y":440},
{"s":"h12","g":"k","o":1,"x":751,"y":565},{"s":"h12","g":"k","o":2,"x":763,"y":580},{"s":"h12","g":"k","o":3,"x":762,"y":558},
{"s":"h13","g":"k","o":1,"x":66,"y":615},{"s":"h13","g":"k","o":2,"x":75,"y":632},{"s":"h13","g":"k","o":3,"x":80,"y":615},
{"s":"h14","g":"k","o":1,"x":429,"y":747},{"s":"h14","g":"k","o":2,"x":442,"y":733},{"s":"h14","g":"k","o":3,"x":443,"y":753},
{"s":"l1","g":"l","o":1,"x":408,"y":518},{"s":"l1","g":"l","o":2,"x":445,"y":470}
],
"dashed":[
{"s":"d1","o":1,"x":405,"y":540},{"s":"d1","o":2,"x":407,"y":553},
{"s":"d2","o":1,"x":780,"y":433},{"s":"d2","o":2,"x":785,"y":460}
],
"icons":[
{"x":395,"y":16,"a":0,"i":"heart"},
{"x":255,"y":116,"a":0,"i":"clover"},
{"x":733,"y":717,"a":0,"i":"clover"},
{"x":359,"y":187,"a":45,"i":"xflower"},
{"x":257,"y":207,"a":0,"i":"asterisk"},
{"x":224,"y":246,"a":0,"i":"daisy"},
{"x":224,"y":246,"a":0,"i":"dot"},
{"x":125,"y":285,"a":0,"i":"pinkcross"},
{"x":203,"y":338,"a":0,"i":"star"},
{"x":198,"y":436,"a":0,"i":"oflower"},
{"x":676,"y":417,"a":0,"i":"oflower"},
{"x":260,"y":433,"a":0,"i":"leaf"},
{"x":813,"y":378,"a":0,"i":"leaf"},
{"x":260,"y":433,"a":0,"i":"leafv"},
{"x":813,"y":378,"a":0,"i":"leafv"},
{"x":310,"y":448,"a":0,"i":"bird"},
{"x":882,"y":398,"a":0,"i":"bird"},
{"x":818,"y":727,"a":0,"i":"pinkclover"},
{"x":540,"y":578,"a":0,"i":"harrow"}
],
"nums":[
{"x":342.5,"y":95,"n":"1"},{"x":133,"y":157,"n":"2"},{"x":333,"y":312,"n":"3"},{"x":119,"y":373,"n":"4"}
],
"label":[{"x":420.5,"y":465,"n":"DB-0205(11/O)"}]
},
"encoding":{
"x":{"field":"x","type":"quantitative","scale":{"domain":[0,949],"nice":false,"zero":false},"axis":null},
"y":{"field":"y","type":"quantitative","scale":{"domain":[0,810],"reverse":true,"nice":false,"zero":false},"axis":null}
},
"layer":[
{"data":{"name":"spokes"},"mark":{"type":"rule","strokeCap":"butt"},"encoding":{
"x2":{"field":"x2"},"y2":{"field":"y2"},
"stroke":{"field":"t","type":"nominal","legend":null,"scale":{"domain":["c","g","t"],"range":["#c9a96a","#5a5a5a","#97743a"]}},
"strokeWidth":{"field":"t","type":"ordinal","legend":null,"scale":{"type":"ordinal","domain":["c","g","t"],"range":[14,14,13.5]}}}},
{"data":{"name":"spokes"},"mark":{"type":"rule","strokeCap":"butt"},"encoding":{
"x":{"field":"a","type":"quantitative","scale":{"domain":[0,949],"nice":false,"zero":false},"axis":null},
"y":{"field":"b","type":"quantitative","scale":{"domain":[0,810],"reverse":true,"nice":false,"zero":false},"axis":null},
"x2":{"field":"a2"},"y2":{"field":"b2"},
"stroke":{"field":"t","type":"nominal","legend":null,"scale":{"domain":["c","g","t"],"range":["#f8e6c6","#808080","#f2d8ae"]}},
"strokeWidth":{"field":"t","type":"ordinal","legend":null,"scale":{"type":"ordinal","domain":["c","g","t"],"range":[10.5,12,10]}}}},
{"data":{"name":"beads"},"mark":{"type":"square","filled":true,"opacity":1},"encoding":{
"angle":{"field":"a","type":"quantitative","scale":null},
"fill":{"field":"k","type":"nominal","legend":null,"scale":{"domain":["gs","gb","c","d","o"],"range":["#5c5c5c","#5c5c5c","#f9e6c6","#231815","#f2d8ae"]}},
"stroke":{"field":"k","type":"nominal","legend":null,"scale":{"domain":["gs","gb","c","d","o"],"range":["#777777","#777777","#c9a96a","#3f3a38","#b5a633"]}},
"size":{"field":"k","type":"ordinal","legend":null,"scale":{"type":"ordinal","domain":["gs","gb","c","d","o"],"range":[90,156,81,100,144]}},
"strokeWidth":{"field":"k","type":"ordinal","legend":null,"scale":{"type":"ordinal","domain":["gs","gb","c","d","o"],"range":[1.5,1.5,2,1,2]}}}},
{"data":{"name":"curves"},"mark":{"type":"line","interpolate":"catmull-rom","strokeCap":"round"},"encoding":{
"detail":{"field":"s"},"order":{"field":"o","type":"quantitative"},
"stroke":{"field":"g","type":"nominal","legend":null,"scale":{"domain":["r","b","k","l"],"range":["#e8381b","#0086c4","#231815","#231815"]}},
"strokeWidth":{"field":"g","type":"ordinal","legend":null,"scale":{"type":"ordinal","domain":["r","b","k","l"],"range":[1.8,1.8,2.5,1.5]}}}},
{"data":{"name":"straight"},"mark":{"type":"line","strokeCap":"round"},"encoding":{
"detail":{"field":"s"},"order":{"field":"o","type":"quantitative"},
"stroke":{"field":"g","type":"nominal","legend":null,"scale":{"domain":["r","b","k","l"],"range":["#e8381b","#0086c4","#231815","#231815"]}},
"strokeWidth":{"field":"g","type":"ordinal","legend":null,"scale":{"type":"ordinal","domain":["r","b","k","l"],"range":[1.8,1.8,2.5,1.5]}}}},
{"data":{"name":"dashed"},"mark":{"type":"line","stroke":"#e8381b","strokeWidth":1.8,"strokeDash":[5,3]},"encoding":{
"detail":{"field":"s"},"order":{"field":"o","type":"quantitative"}}},
{"data":{"name":"icons"},"mark":{"type":"point","filled":true,"opacity":1},"encoding":{
"angle":{"field":"a","type":"quantitative","scale":null},
"shape":{"field":"i","type":"nominal","legend":null,"scale":{"domain":["heart","clover","xflower","asterisk","daisy","dot","pinkcross","star","oflower","leaf","leafv","bird","pinkclover","harrow"],"range":[
"M0,0.95 C-0.5,0.5 -1,0.1 -1,-0.4 C-1,-0.8 -0.7,-0.95 -0.45,-0.95 C-0.25,-0.95 -0.08,-0.8 0,-0.6 C0.08,-0.8 0.25,-0.95 0.45,-0.95 C0.7,-0.95 1,-0.8 1,-0.4 C1,0.1 0.5,0.5 0,0.95 Z",
"M0,0 C-0.15,-0.25 -0.55,-0.4 -0.45,-0.75 C-0.38,-1 -0.1,-1 0,-0.8 C0.1,-1 0.38,-1 0.45,-0.75 C0.55,-0.4 0.15,-0.25 0,0Z M0,0 C0.25,-0.15 0.4,-0.55 0.75,-0.45 C1,-0.38 1,-0.1 0.8,0 C1,0.1 1,0.38 0.75,0.45 C0.4,0.55 0.25,0.15 0,0Z M0,0 C0.15,0.25 0.55,0.4 0.45,0.75 C0.38,1 0.1,1 0,0.8 C-0.1,1 -0.38,1 -0.45,0.75 C-0.55,0.4 -0.15,0.25 0,0Z M0,0 C-0.25,0.15 -0.4,0.55 -0.75,0.45 C-1,0.38 -1,0.1 -0.8,0 C-1,-0.1 -1,-0.38 -0.75,-0.45 C-0.4,-0.55 -0.25,-0.15 0,0Z",
"M0,0 C-0.12,-0.3 -0.42,-0.5 -0.36,-0.8 C-0.3,-1 -0.1,-1 0,-0.88 C0.1,-1 0.3,-1 0.36,-0.8 C0.42,-0.5 0.12,-0.3 0,0Z M0,0 C0.3,-0.12 0.5,-0.42 0.8,-0.36 C1,-0.3 1,-0.1 0.88,0 C1,0.1 1,0.3 0.8,0.36 C0.5,0.42 0.3,0.12 0,0Z M0,0 C0.12,0.3 0.42,0.5 0.36,0.8 C0.3,1 0.1,1 0,0.88 C-0.1,1 -0.3,1 -0.36,0.8 C-0.42,0.5 -0.12,0.3 0,0Z M0,0 C-0.3,0.12 -0.5,0.42 -0.8,0.36 C-1,0.3 -1,0.1 -0.88,0 C-1,-0.1 -1,-0.3 -0.8,-0.36 C-0.5,-0.42 -0.3,-0.12 0,0Z",
"M0,0 L-.15,-.7 L0,-1 L.15,-.7Z M0,0 L.389,-.601 L.707,-.707 L.601,-.389Z M0,0 L.7,-.15 L1,0 L.7,.15Z M0,0 L.601,.389 L.707,.707 L.389,.601Z M0,0 L.15,.7 L0,1 L-.15,.7Z M0,0 L-.389,.601 L-.707,.707 L-.601,.389Z M0,0 L-.7,.15 L-1,0 L-.7,-.15Z M0,0 L-.601,-.389 L-.707,-.707 L-.389,-.601Z",
"M0,0 C-.4,-.3 -.35,-1 0,-1 C.35,-1 .4,-.3 0,0Z M0,0 C-.071,-.495 .46,-.954 .707,-.707 C.954,-.46 .495,.071 0,0Z M0,0 C.3,-.4 1,-.35 1,0 C1,.35 .3,.4 0,0Z M0,0 C.495,-.071 .954,.46 .707,.707 C.46,.954 -.071,.495 0,0Z M0,0 C.4,.3 .35,1 0,1 C-.35,1 -.4,.3 0,0Z M0,0 C.071,.495 -.46,.954 -.707,.707 C-.954,.46 -.495,-.071 0,0Z M0,0 C-.3,.4 -1,.35 -1,0 C-1,-.35 -.3,-.4 0,0Z M0,0 C-.495,.071 -.954,-.46 -.707,-.707 C-.46,-.954 .071,-.495 0,0Z",
"circle",
"M0,0 C-0.12,-0.3 -0.42,-0.5 -0.36,-0.8 C-0.3,-1 -0.1,-1 0,-0.88 C0.1,-1 0.3,-1 0.36,-0.8 C0.42,-0.5 0.12,-0.3 0,0Z M0,0 C0.3,-0.12 0.5,-0.42 0.8,-0.36 C1,-0.3 1,-0.1 0.88,0 C1,0.1 1,0.3 0.8,0.36 C0.5,0.42 0.3,0.12 0,0Z M0,0 C0.12,0.3 0.42,0.5 0.36,0.8 C0.3,1 0.1,1 0,0.88 C-0.1,1 -0.3,1 -0.36,0.8 C-0.42,0.5 -0.12,0.3 0,0Z M0,0 C-0.3,0.12 -0.5,0.42 -0.8,0.36 C-1,0.3 -1,0.1 -0.88,0 C-1,-0.1 -1,-0.3 -0.8,-0.36 C-0.5,-0.42 -0.3,-0.12 0,0Z",
"M0,-1 C.12,-.35 .35,-.12 1,0 C.35,.12 .12,.35 0,1 C-.12,.35 -.35,.12 -1,0 C-.35,-.12 -.12,-.35 0,-1Z",
"M0,0 C-.5,-.4 -.4,-1 0,-1 C.4,-1 .5,-.4 0,0Z M0,0 C.226,-.6 .827,-.689 .951,-.309 C1.075,.071 .535,.352 0,0Z M0,0 C.64,.03 .912,.574 .588,.809 C.264,1.044 -.17,.618 0,0Z M0,0 C.17,.618 -.264,1.044 -.588,.809 C-.912,.574 -.64,.03 0,0Z M0,0 C-.535,.352 -1.075,.071 -.951,-.309 C-.827,-.689 -.226,-.6 0,0Z",
"M-.85,-1 L-.75,-.45 C-.95,0 -.6,.7 .95,.95 C1,.3 .6,-.55 -.75,-.45 Z",
"M-.75,-.45 L.7,.75 M-.1,.1 L-.15,.5 M-.1,.1 L.3,.1 M.3,.42 L.25,.68 M.3,.42 L.6,.42",
"M-1,-.58 L-.72,-.62 C-.55,-.75 -.3,-.6 -.25,-.35 C-.1,-.05 .2,-.1 .45,-.1 L1,-.2 L.98,.02 L.55,.05 C.2,.55 -.25,.72 -.55,.5 C-.8,.3 -.85,-.15 -.72,-.45 Z",
"M0,0 C-0.15,-0.25 -0.55,-0.4 -0.45,-0.75 C-0.38,-1 -0.1,-1 0,-0.8 C0.1,-1 0.38,-1 0.45,-0.75 C0.55,-0.4 0.15,-0.25 0,0Z M0,0 C0.25,-0.15 0.4,-0.55 0.75,-0.45 C1,-0.38 1,-0.1 0.8,0 C1,0.1 1,0.38 0.75,0.45 C0.4,0.55 0.25,0.15 0,0Z M0,0 C0.15,0.25 0.55,0.4 0.45,0.75 C0.38,1 0.1,1 0,0.8 C-0.1,1 -0.38,1 -0.45,0.75 C-0.55,0.4 -0.15,0.25 0,0Z M0,0 C-0.25,0.15 -0.4,0.55 -0.75,0.45 C-1,0.38 -1,0.1 -0.8,0 C-1,-0.1 -1,-0.38 -0.75,-0.45 C-0.4,-0.55 -0.25,-0.15 0,0Z",
"M-.69,-.45 L.1,-.45 L.1,-1 L.69,0 L.1,1 L.1,.45 L-.69,.45 Z"]}},
"size":{"field":"i","type":"ordinal","legend":null,"scale":{"type":"ordinal","domain":["heart","clover","xflower","asterisk","daisy","dot","pinkcross","star","oflower","leaf","leafv","bird","pinkclover","harrow"],"range":[400,484,729,529,484,36,676,441,576,729,729,961,484,2704]}},
"fill":{"field":"i","type":"nominal","legend":null,"scale":{"domain":["heart","clover","xflower","asterisk","daisy","dot","pinkcross","star","oflower","leaf","leafv","bird","pinkclover","harrow"],"range":["#e60027","#009944","#0075c2","#5f2d8e","#fdf6e3","#ffe100","#d64f9e","#1f9e8e","#ee8400","#b8d54b","transparent","#6d87c6","#f0a3ae","#ffffff"]}},
"stroke":{"field":"i","type":"nominal","legend":null,"scale":{"domain":["heart","clover","xflower","asterisk","daisy","dot","pinkcross","star","oflower","leaf","leafv","bird","pinkclover","harrow"],"range":["#e60027","#009944","#0075c2","#5f2d8e","#40220f","#ffe100","#7a5cb0","#0f6e6a","#c06500","#3f9a3c","#3f9a3c","#1a3a8a","#c4607a","#231815"]}},
"strokeWidth":{"field":"i","type":"ordinal","legend":null,"scale":{"type":"ordinal","domain":["heart","clover","xflower","asterisk","daisy","dot","pinkcross","star","oflower","leaf","leafv","bird","pinkclover","harrow"],"range":[0.5,0.5,0.5,0.5,1,0,1.2,1,1,1,1,1.2,1.2,3.5]}}}},
{"data":{"name":"nums"},"mark":{"type":"point","shape":"circle","filled":true,"fill":"white","stroke":"#231815","strokeWidth":1.3,"size":740,"opacity":1}},
{"data":{"name":"nums"},"mark":{"type":"text","font":"Noto Sans","fontSize":23,"fontWeight":300,"fill":"#231815","align":"center","baseline":"middle"},"encoding":{"text":{"field":"n"}}},
{"data":{"name":"label"},"mark":{"type":"text","font":"Liberation Serif","fontSize":34.2,"fill":"#000000","align":"left","baseline":"alphabetic"},"encoding":{"text":{"field":"n"}}}
]}
